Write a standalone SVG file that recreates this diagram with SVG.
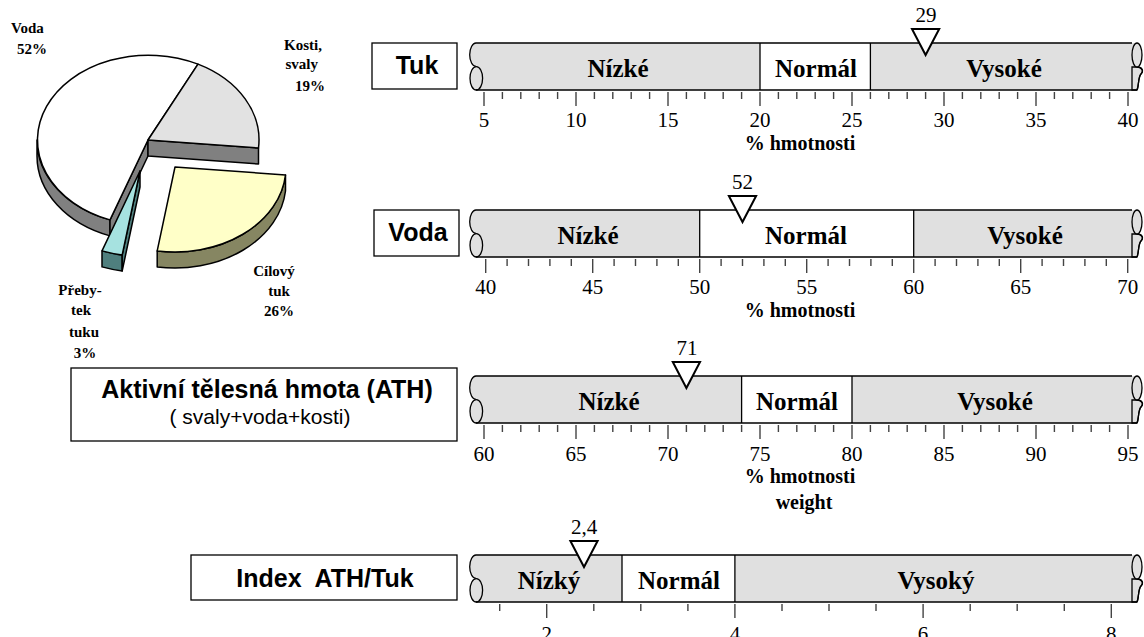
<svg xmlns="http://www.w3.org/2000/svg" width="1144" height="637" viewBox="0 0 1144 637">
<style>
.box{fill:#fff;stroke:#000;stroke-width:1.3}
.boxt{font-family:"Liberation Sans",Arial,sans-serif;font-weight:bold;font-size:25px;text-anchor:middle}
.sub{font-family:"Liberation Sans",Arial,sans-serif;font-size:21px;text-anchor:middle}
.seg{font-family:"Liberation Serif","Times New Roman",serif;font-weight:bold;font-size:25px;text-anchor:middle}
.num{font-family:"Liberation Serif","Times New Roman",serif;font-size:21px;text-anchor:middle}
.unit{font-family:"Liberation Serif","Times New Roman",serif;font-weight:bold;font-size:20px;text-anchor:middle}
.pl{font-family:"Liberation Serif","Times New Roman",serif;font-weight:bold;font-size:15px}
.lo{fill:#e0e0e0}
.hi{fill:#fff}
.edge{fill:none;stroke:#000;stroke-width:1.3}
.cap{fill:#e0e0e0;stroke:#000;stroke-width:1.3}
.tick{stroke:#444;stroke-width:1.4;fill:none}
.mark{fill:#fff;stroke:#000;stroke-width:2;stroke-linejoin:miter}
.pie{stroke:#000;stroke-width:1.5;stroke-linejoin:round}
</style>
<defs>
  <!-- rolled ends and long edges of a horizontal scroll bar, 47 px tall -->
  <g id="scroll-ends">
    <path class="lo" d="M476,0 A6.3,11.75 0 0 0 476,23.5 H482 V0 Z"/>
    <path class="edge" d="M476,0 A6.3,11.75 0 0 0 476,23.5"/>
    <ellipse class="cap" cx="476.3" cy="35.3" rx="6.3" ry="11.7"/>
    <path class="cap" d="M1137,24 C1142,24 1144,28 1141,31 C1138,34 1139,43 1137,47 L1132,47 L1132,24 Z" stroke="none"/>
    <path class="edge" d="M1137,24 C1142,24 1144,28 1141,31 C1138,34 1139,43 1137,47"/>
    <ellipse class="cap" cx="1137" cy="12" rx="5" ry="12"/>
    <path class="edge" d="M476,0 H1132 M476,47 H1137"/>
  </g>
</defs>

<!-- 3D exploded pie -->
<g id="pie">
  <path class="pie" fill="#808080" d="M110,219.9 A111,85 0 0 1 37,140 L37,156 A111,85 0 0 0 110,235.9 Z"/>
  <path class="pie" fill="#808080" d="M148,140 L110,219.9 L110,235.9 L148,156 Z"/>
  <path class="pie" fill="#808080" d="M148,140 L258.5,148 L258.5,164 L148,156 Z"/>
  <path class="pie" fill="#ffffff" d="M148,140 L110,219.9 A111,85 0 1 1 198,64.1 Z"/>
  <path class="pie" fill="#e2e2e2" d="M148,140 L198,64.1 A111,85 0 0 1 258.5,148 Z"/>
  <path class="pie" fill="#4f7f7e" d="M102,250.9 A111,85 0 0 0 122.2,254.9 L122.2,270.9 A111,85 0 0 1 102,266.9 Z"/>
  <path class="pie" fill="#4f7f7e" d="M140,171 L122.2,254.9 L122.2,270.9 L140,187 Z"/>
  <path class="pie" fill="#a6e2e0" d="M140,171 L102,250.9 A111,85 0 0 0 122.2,254.9 Z"/>
  <path class="pie" fill="#868662" d="M285.5,175 A111,85 0 0 1 157.2,250.9 L157.2,266.9 A111,85 0 0 0 285.5,191 Z"/>
  <path class="pie" fill="#ffffc8" d="M175,167 L285.5,175 A111,85 0 0 1 157.2,250.9 Z"/>
  <text class="pl" x="11" y="33">Voda</text>
  <text class="pl" x="17" y="54">52%</text>
  <text class="pl" x="322" y="50" text-anchor="end">Kosti,</text>
  <text class="pl" x="318" y="69" text-anchor="end">svaly</text>
  <text class="pl" x="325" y="91" text-anchor="end">19%</text>
  <text class="pl" x="274" y="276" text-anchor="middle">Cílový</text>
  <text class="pl" x="279" y="296" text-anchor="middle">tuk</text>
  <text class="pl" x="279" y="316" text-anchor="middle">26%</text>
  <text class="pl" x="80" y="295" text-anchor="middle">Přeby-</text>
  <text class="pl" x="81" y="315" text-anchor="middle">tek</text>
  <text class="pl" x="84" y="337" text-anchor="middle">tuku</text>
  <text class="pl" x="85" y="358" text-anchor="middle">3%</text>
</g>

<!-- Tuk -->
<g id="tuk">
  <rect class="box" x="372" y="43" width="85" height="46"/>
  <text class="boxt" x="417" y="74">Tuk</text>
  <rect class="lo" x="476" y="43" width="284" height="47"/>
  <rect class="hi" x="760" y="43" width="110.4" height="47"/>
  <rect class="lo" x="870.4" y="43" width="266.6" height="47"/>
  <use href="#scroll-ends" transform="translate(0,43)"/>
  <path class="edge" d="M760,43 V90 M870.4,43 V90"/>
  <text class="seg" x="618" y="77">Nízké</text>
  <text class="seg" x="816" y="77">Normál</text>
  <text class="seg" x="1004" y="77">Vysoké</text>
  <path class="tick" d="M484,92V106 M502.4,92V99 M520.8,92V99 M539.2,92V99 M557.6,92V99 M576,92V106 M594.4,92V99 M612.8,92V99 M631.2,92V99 M649.6,92V99 M668,92V106 M686.4,92V99 M704.8,92V99 M723.2,92V99 M741.6,92V99 M760,92V106 M778.4,92V99 M796.8,92V99 M815.2,92V99 M833.6,92V99 M852,92V106 M870.4,92V99 M888.8,92V99 M907.2,92V99 M925.6,92V99 M944,92V106 M962.4,92V99 M980.8,92V99 M999.2,92V99 M1017.6,92V99 M1036,92V106 M1054.4,92V99 M1072.8,92V99 M1091.2,92V99 M1109.6,92V99 M1128,92V106"/>
  <text class="num" x="484" y="127">5</text>
  <text class="num" x="576" y="127">10</text>
  <text class="num" x="668" y="127">15</text>
  <text class="num" x="760" y="127">20</text>
  <text class="num" x="852" y="127">25</text>
  <text class="num" x="944" y="127">30</text>
  <text class="num" x="1036" y="127">35</text>
  <text class="num" x="1128" y="127">40</text>
  <text class="unit" x="800" y="150">% hmotnosti</text>
  <path class="mark" d="M912,29 H939.2 L925.6,55 Z"/>
  <text class="num" x="926" y="22">29</text>
</g>

<!-- Voda -->
<g id="voda">
  <rect class="box" x="374" y="210" width="85" height="46"/>
  <text class="boxt" x="418" y="241">Voda</text>
  <rect class="lo" x="476" y="210" width="223.7" height="47"/>
  <rect class="hi" x="699.7" y="210" width="214" height="47"/>
  <rect class="lo" x="913.7" y="210" width="223.3" height="47"/>
  <use href="#scroll-ends" transform="translate(0,210)"/>
  <path class="edge" d="M699.7,210 V257 M913.7,210 V257"/>
  <text class="seg" x="588" y="244">Nízké</text>
  <text class="seg" x="806" y="244">Normál</text>
  <text class="seg" x="1025" y="244">Vysoké</text>
  <path class="tick" d="M485.7,259V273 M507.1,259V266 M528.5,259V266 M549.9,259V266 M571.3,259V266 M592.7,259V273 M614.1,259V266 M635.5,259V266 M656.9,259V266 M678.3,259V266 M699.7,259V273 M721.1,259V266 M742.5,259V266 M763.9,259V266 M785.3,259V266 M806.7,259V273 M828.1,259V266 M849.5,259V266 M870.9,259V266 M892.3,259V266 M913.7,259V273 M935.1,259V266 M956.5,259V266 M977.9,259V266 M999.3,259V266 M1020.7,259V273 M1042.1,259V266 M1063.5,259V266 M1084.9,259V266 M1106.3,259V266 M1127.7,259V273"/>
  <text class="num" x="485.7" y="294">40</text>
  <text class="num" x="592.7" y="294">45</text>
  <text class="num" x="699.7" y="294">50</text>
  <text class="num" x="806.7" y="294">55</text>
  <text class="num" x="913.7" y="294">60</text>
  <text class="num" x="1020.7" y="294">65</text>
  <text class="num" x="1127.7" y="294">70</text>
  <text class="unit" x="800" y="317">% hmotnosti</text>
  <path class="mark" d="M728.9,196 H756.1 L742.5,222 Z"/>
  <text class="num" x="742.5" y="189">52</text>
</g>

<!-- Aktivní tělesná hmota -->
<g id="ath">
  <rect class="box" x="71" y="368" width="386" height="73"/>
  <text class="boxt" x="267" y="398">Aktivní tělesná hmota (ATH)</text>
  <text class="sub" x="260" y="424">( svaly+voda+kosti)</text>
  <rect class="lo" x="476" y="376" width="265.6" height="47"/>
  <rect class="hi" x="741.6" y="376" width="110.4" height="47"/>
  <rect class="lo" x="852" y="376" width="285" height="47"/>
  <use href="#scroll-ends" transform="translate(0,376)"/>
  <path class="edge" d="M741.6,376 V423 M852,376 V423"/>
  <text class="seg" x="609" y="410">Nízké</text>
  <text class="seg" x="797" y="410">Normál</text>
  <text class="seg" x="995" y="410">Vysoké</text>
  <path class="tick" d="M484,425V439 M502.4,425V432 M520.8,425V432 M539.2,425V432 M557.6,425V432 M576,425V439 M594.4,425V432 M612.8,425V432 M631.2,425V432 M649.6,425V432 M668,425V439 M686.4,425V432 M704.8,425V432 M723.2,425V432 M741.6,425V432 M760,425V439 M778.4,425V432 M796.8,425V432 M815.2,425V432 M833.6,425V432 M852,425V439 M870.4,425V432 M888.8,425V432 M907.2,425V432 M925.6,425V432 M944,425V439 M962.4,425V432 M980.8,425V432 M999.2,425V432 M1017.6,425V432 M1036,425V439 M1054.4,425V432 M1072.8,425V432 M1091.2,425V432 M1109.6,425V432 M1128,425V439"/>
  <text class="num" x="484" y="461">60</text>
  <text class="num" x="576" y="461">65</text>
  <text class="num" x="668" y="461">70</text>
  <text class="num" x="760" y="461">75</text>
  <text class="num" x="852" y="461">80</text>
  <text class="num" x="944" y="461">85</text>
  <text class="num" x="1036" y="461">90</text>
  <text class="num" x="1128" y="461">95</text>
  <text class="unit" x="800" y="483">% hmotnosti</text>
  <text class="unit" x="804" y="509">weight</text>
  <path class="mark" d="M672.8,362 H700 L686.4,388 Z"/>
  <text class="num" x="687" y="355">71</text>
</g>

<!-- Index ATH/Tuk -->
<g id="index">
  <rect class="box" x="191" y="555" width="266" height="45"/>
  <text class="boxt" x="325" y="587" xml:space="preserve">Index  ATH/Tuk</text>
  <rect class="lo" x="476" y="555" width="146" height="47"/>
  <rect class="hi" x="622" y="555" width="112.9" height="47"/>
  <rect class="lo" x="734.9" y="555" width="402.1" height="47"/>
  <use href="#scroll-ends" transform="translate(0,555)"/>
  <path class="edge" d="M622,555 V602 M734.9,555 V602"/>
  <text class="seg" x="549" y="589">Nízký</text>
  <text class="seg" x="679" y="589">Normál</text>
  <text class="seg" x="936" y="589">Vysoký</text>
  <path class="tick" d="M499.7,604V611 M546.7,604V618 M593.8,604V611 M640.8,604V611 M687.9,604V611 M734.9,604V618 M782,604V611 M829,604V611 M876,604V611 M923.1,604V618 M970.2,604V611 M1017.2,604V611 M1064.3,604V611 M1111.3,604V618"/>
  <text class="num" x="546.7" y="641">2</text>
  <text class="num" x="734.9" y="641">4</text>
  <text class="num" x="923.1" y="641">6</text>
  <text class="num" x="1111.3" y="641">8</text>
  <path class="mark" d="M570.4,541 H597.6 L584,567 Z"/>
  <text class="num" x="584" y="534">2,4</text>
</g>
</svg>
